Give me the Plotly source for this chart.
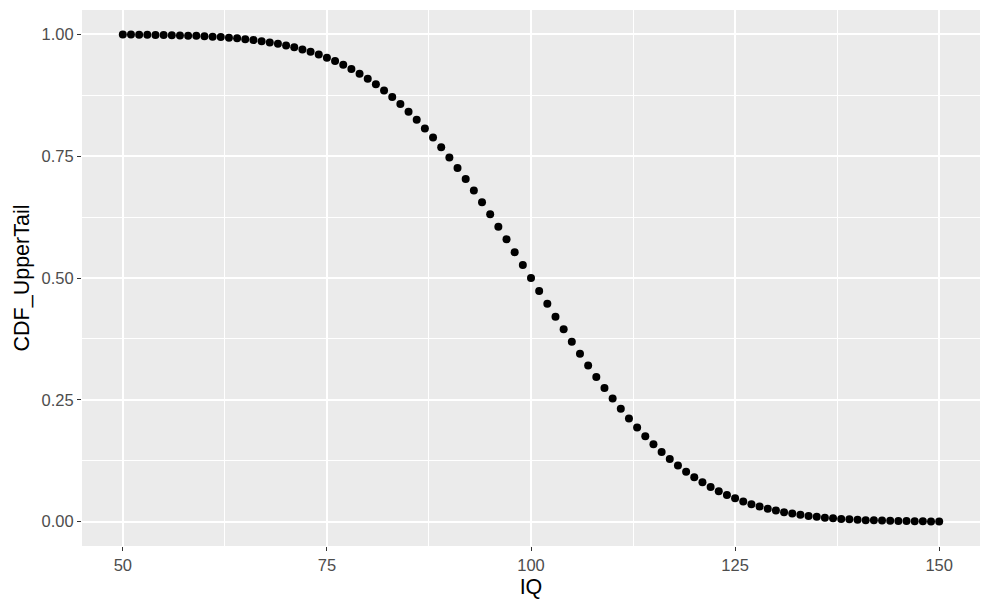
import plotly.graph_objects as go

iq = list(range(50, 151))
cdf_upper_tail = [
    0.9996, 0.9995, 0.9993, 0.9991, 0.9989, 0.99865, 0.9983, 0.9979, 0.9974, 0.9969,
    0.9962, 0.9953, 0.9944, 0.9932, 0.9918, 0.9902, 0.9883, 0.9861, 0.9835, 0.9806,
    0.9772, 0.9734, 0.9690, 0.9641, 0.9585, 0.9522, 0.9452, 0.9374, 0.9288, 0.9192,
    0.9088, 0.8974, 0.8849, 0.8715, 0.8569, 0.8413, 0.8247, 0.8069, 0.7881, 0.7683,
    0.7475, 0.7257, 0.7031, 0.6796, 0.6554, 0.6306, 0.6051, 0.5793, 0.5530, 0.5266,
    0.5000,
    0.4734, 0.4470, 0.4207, 0.3949, 0.3694, 0.3446, 0.3204, 0.2969, 0.2743, 0.2525,
    0.2317, 0.2119, 0.1931, 0.1753, 0.1587, 0.1431, 0.1285, 0.1151, 0.1026, 0.0912,
    0.0808, 0.0712, 0.0626, 0.0548, 0.0478, 0.0415, 0.0359, 0.0310, 0.0266, 0.0228,
    0.0194, 0.0165, 0.0139, 0.0117, 0.0098, 0.0082, 0.0068, 0.0056, 0.0047, 0.0038,
    0.0031, 0.0026, 0.0021, 0.0017, 0.00135, 0.0011, 0.0009, 0.0007, 0.0005, 0.0004,
]
x_ticks = [50, 75, 100, 125, 150]
y_ticks = [0.0, 0.25, 0.5, 0.75, 1.0]
y_tick_labels = ["0.00", "0.25", "0.50", "0.75", "1.00"]

fig = go.Figure()
fig.add_trace(go.Scatter(
    x=iq, y=cdf_upper_tail, mode="markers",
    marker=dict(color="black", size=8, line=dict(width=0)),
    showlegend=False,
))

font = "Liberation Sans, Arial, sans-serif"
fig.update_layout(
    width=991, height=612,
    margin=dict(l=74, r=19, t=2, b=74),
    paper_bgcolor="white",
    plot_bgcolor="#EBEBEB",
    font=dict(family=font),
)
fig.update_xaxes(
    range=[45, 155], tickvals=x_ticks, ticktext=[str(v) for v in x_ticks],
    showgrid=True, gridcolor="white", gridwidth=1.5, zeroline=False,
    ticks="outside", ticklen=4, tickwidth=1.3, tickcolor="#333333",
    tickfont=dict(size=16.5, color="#4D4D4D", family=font),
    minor=dict(tickvals=[62.5, 87.5, 112.5, 137.5], showgrid=True, gridcolor="white", gridwidth=0.7, ticks=""),
    title=dict(text="IQ", font=dict(size=21.5, color="black", family=font), standoff=6),
    showline=False, automargin=False,
)
fig.update_yaxes(
    range=[-0.05, 1.05], tickvals=y_ticks, ticktext=y_tick_labels,
    showgrid=True, gridcolor="white", gridwidth=1.5, zeroline=False,
    ticks="outside", ticklen=4, tickwidth=1.3, tickcolor="#333333",
    tickfont=dict(size=16.5, color="#4D4D4D", family=font),
    minor=dict(tickvals=[0.125, 0.375, 0.625, 0.875], showgrid=True, gridcolor="white", gridwidth=0.7, ticks=""),
    title=dict(text="CDF_UpperTail", font=dict(size=21.5, color="black", family=font), standoff=6),
    showline=False, automargin=False,
)
fig.write_html("out.html")
